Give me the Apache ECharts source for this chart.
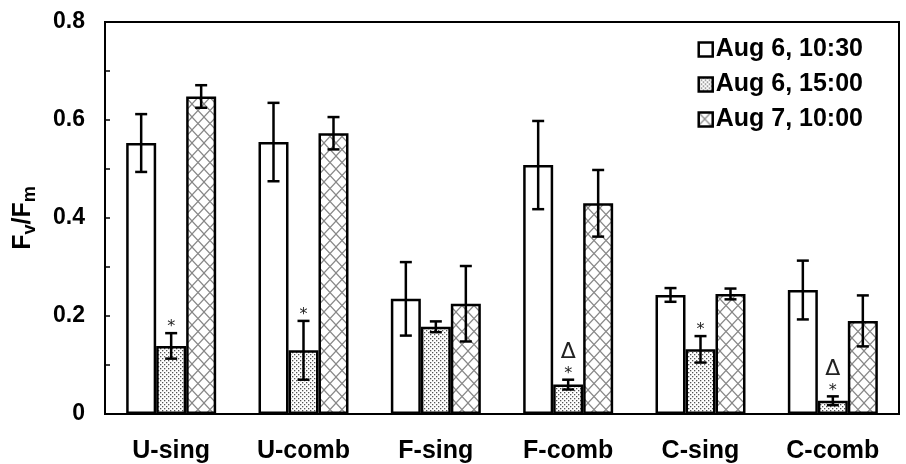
<!DOCTYPE html>
<html>
<head>
<meta charset="utf-8">
<script src="https://cdn.jsdelivr.net/npm/echarts@6/dist/echarts.min.js"></script>
<style>html,body{margin:0;padding:0;background:#fff}#c{width:906px;height:464px}</style>
</head>
<body>
<div id="c"></div>
<script>
var categories = ['U-sing', 'U-comb', 'F-sing', 'F-comb', 'C-sing', 'C-comb'];
var seriesNames = ['Aug 6, 10:30', 'Aug 6, 15:00', 'Aug 7, 10:00'];
var aug6am = [0.553, 0.555, 0.235, 0.508, 0.243, 0.253];
var aug6pm = [0.139, 0.130, 0.178, 0.060, 0.132, 0.027];
var aug7am = [0.648, 0.573, 0.225, 0.430, 0.245, 0.190];
var aug6amErr = [0.059, 0.080, 0.075, 0.090, 0.014, 0.060];
var aug6pmErr = [0.026, 0.060, 0.011, 0.010, 0.027, 0.009];
var aug7amErr = [0.023, 0.033, 0.077, 0.068, 0.011, 0.052];
var marks = ['*', '*', '', 'Δ\n*', '*', 'Δ\n*'];
var yTicks = [0, 0.2, 0.4, 0.6, 0.8];

function dotPattern() {
  var c = document.createElement('canvas');
  c.width = 4; c.height = 4;
  var x = c.getContext('2d');
  x.fillStyle = '#fff'; x.fillRect(0, 0, 4, 4);
  x.fillStyle = '#555';
  x.fillRect(0, 0, 1.3, 1.3);
  x.fillRect(2, 2, 1.3, 1.3);
  return c;
}
function crossPattern() {
  var c = document.createElement('canvas');
  c.width = 12; c.height = 13;
  var x = c.getContext('2d');
  x.fillStyle = '#fff'; x.fillRect(0, 0, 12, 13);
  x.strokeStyle = '#888'; x.lineWidth = 1.2;
  x.beginPath();
  x.moveTo(0, 0); x.lineTo(12, 13);
  x.moveTo(12, 0); x.lineTo(0, 13);
  x.stroke();
  return c;
}

var values = [aug6am, aug6pm, aug7am];
var errs = [aug6amErr, aug6pmErr, aug7amErr];
var fills = ['#ffffff', {image: dotPattern(), repeat: 'repeat'}, {image: crossPattern(), repeat: 'repeat'}];
var GAP = 0.32;

var errData = [];
for (var s = 0; s < 3; s++) {
  for (var i = 0; i < categories.length; i++) {
    errData.push([i, values[s][i] - errs[s][i], values[s][i] + errs[s][i], s]);
  }
}
var markData = [];
for (var i = 0; i < categories.length; i++) {
  if (marks[i]) markData.push([i, aug6pm[i] + aug6pmErr[i], marks[i]]);
}

function offsetFor(api, s) {
  var band = api.size([1, 0])[0];
  var bw = band * (1 - GAP) / 3;
  return -band * (1 - GAP) / 2 + (s + 0.5) * bw;
}

var series = [];
for (var s = 0; s < 3; s++) {
  series.push({
    name: seriesNames[s],
    type: 'bar',
    data: values[s],
    barGap: '0%',
    barCategoryGap: (GAP * 100) + '%',
    itemStyle: {color: fills[s], borderColor: '#000', borderWidth: 2.5},
    emphasis: {disabled: true}
  });
}
series.push({
  type: 'custom',
  data: errData,
  z: 5,
  clip: false,
  renderItem: function (params, api) {
    var s = api.value(3);
    var off = offsetFor(api, s);
    var lo = api.coord([api.value(0), api.value(1)]);
    var hi = api.coord([api.value(0), api.value(2)]);
    var x = lo[0] + off;
    var cap = 6;
    var st = {stroke: '#000', lineWidth: 2.5};
    return {
      type: 'group',
      children: [
        {type: 'line', shape: {x1: x, y1: lo[1], x2: x, y2: hi[1]}, style: st},
        {type: 'line', shape: {x1: x - cap, y1: lo[1], x2: x + cap, y2: lo[1]}, style: st},
        {type: 'line', shape: {x1: x - cap, y1: hi[1], x2: x + cap, y2: hi[1]}, style: st}
      ]
    };
  }
});
series.push({
  type: 'custom',
  data: markData,
  z: 6,
  clip: false,
  renderItem: function (params, api) {
    var off = offsetFor(api, 1);
    var p = api.coord([api.value(0), api.value(1)]);
    var txt = markData[params.dataIndex][2];
    var lines = txt.split('\n');
    var children = [];
    var y = p[1] - 4;
    for (var k = lines.length - 1; k >= 0; k--) {
      var isStar = lines[k] === '*';
      children.push({
        type: 'text',
        style: {
          text: lines[k], x: p[0] + off, y: isStar ? y + 6 : y,
          align: 'center', verticalAlign: 'bottom',
          fontFamily: 'DejaVu Sans',
          fontSize: isStar ? 16 : 22, fill: '#222'
        }
      });
      y -= isStar ? 12 : 24;
    }
    return {type: 'group', children: children};
  }
});

var chart = echarts.init(document.getElementById('c'), null, {renderer: 'canvas'});
chart.setOption({
  animation: false,
  backgroundColor: '#fff',
  grid: {left: 105, right: 7, top: 22, bottom: 50, show: true, borderColor: '#000', borderWidth: 2},
  legend: {
    data: seriesNames,
    orient: 'vertical',
    right: 38, top: 32,
    itemWidth: 14, itemHeight: 14, itemGap: 10,
    icon: 'rect',
    itemStyle: {borderColor: '#000', borderWidth: 2.5},
    textStyle: {fontFamily: 'Liberation Sans', fontWeight: 'bold', fontSize: 25, color: '#000', padding: [0, 0, 0, -2]},
    selectedMode: false
  },
  xAxis: {
    type: 'category',
    data: categories,
    axisLine: {lineStyle: {color: '#000', width: 2}},
    axisTick: {show: false},
    axisLabel: {fontFamily: 'Liberation Sans', fontWeight: 'bold', fontSize: 25, color: '#000', margin: 25}
  },
  yAxis: {
    type: 'value',
    min: yTicks[0], max: yTicks[yTicks.length - 1], interval: 0.2,
    name: 'F{sub|v}/F{sub|m}',
    nameLocation: 'middle', nameGap: 66, nameRotate: 90,
    nameTextStyle: {
      fontFamily: 'Liberation Sans', fontWeight: 'bold', fontSize: 25, color: '#000',
      rich: {sub: {fontFamily: 'Liberation Sans', fontWeight: 'bold', fontSize: 18, color: '#000', verticalAlign: 'bottom', padding: [14, 0, 0, 0]}}
    },
    axisLine: {show: true, lineStyle: {color: '#000', width: 2}},
    axisTick: {show: true, inside: true, length: 5, lineStyle: {color: '#000', width: 1.5}},
    minorTick: {show: true, splitNumber: 2, length: 5, lineStyle: {color: '#000', width: 1.5}},
    splitLine: {show: false},
    axisLabel: {fontFamily: 'Liberation Sans', fontWeight: 'bold', fontSize: 23, color: '#000', margin: 20}
  },
  series: series
});
</script>
</body>
</html>
